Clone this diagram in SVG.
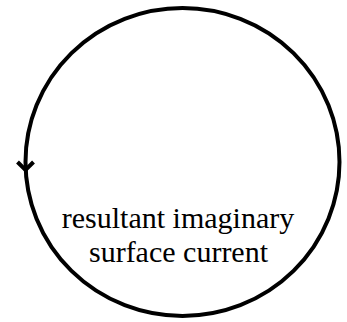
<svg xmlns="http://www.w3.org/2000/svg" width="347" height="322" viewBox="0 0 347 322">
<style>
.ln{fill:none;stroke:#000;stroke-width:4}
.t{font-family:"Liberation Serif","Times New Roman",serif;font-size:30px;fill:#000;text-anchor:middle}
</style>
<rect width="347" height="322" fill="#fff"/>
<g id="loop">
<ellipse class="ln" cx="182.5" cy="162" rx="157" ry="154"/>
</g>
<g id="connectors">
<polyline class="ln" points="17.5,162 25.5,170 33.5,162"/>
</g>
<g id="label">
<text class="t" x="178" y="228">resultant imaginary</text>
<text class="t" x="178.5" y="262">surface current</text>
</g>
</svg>
